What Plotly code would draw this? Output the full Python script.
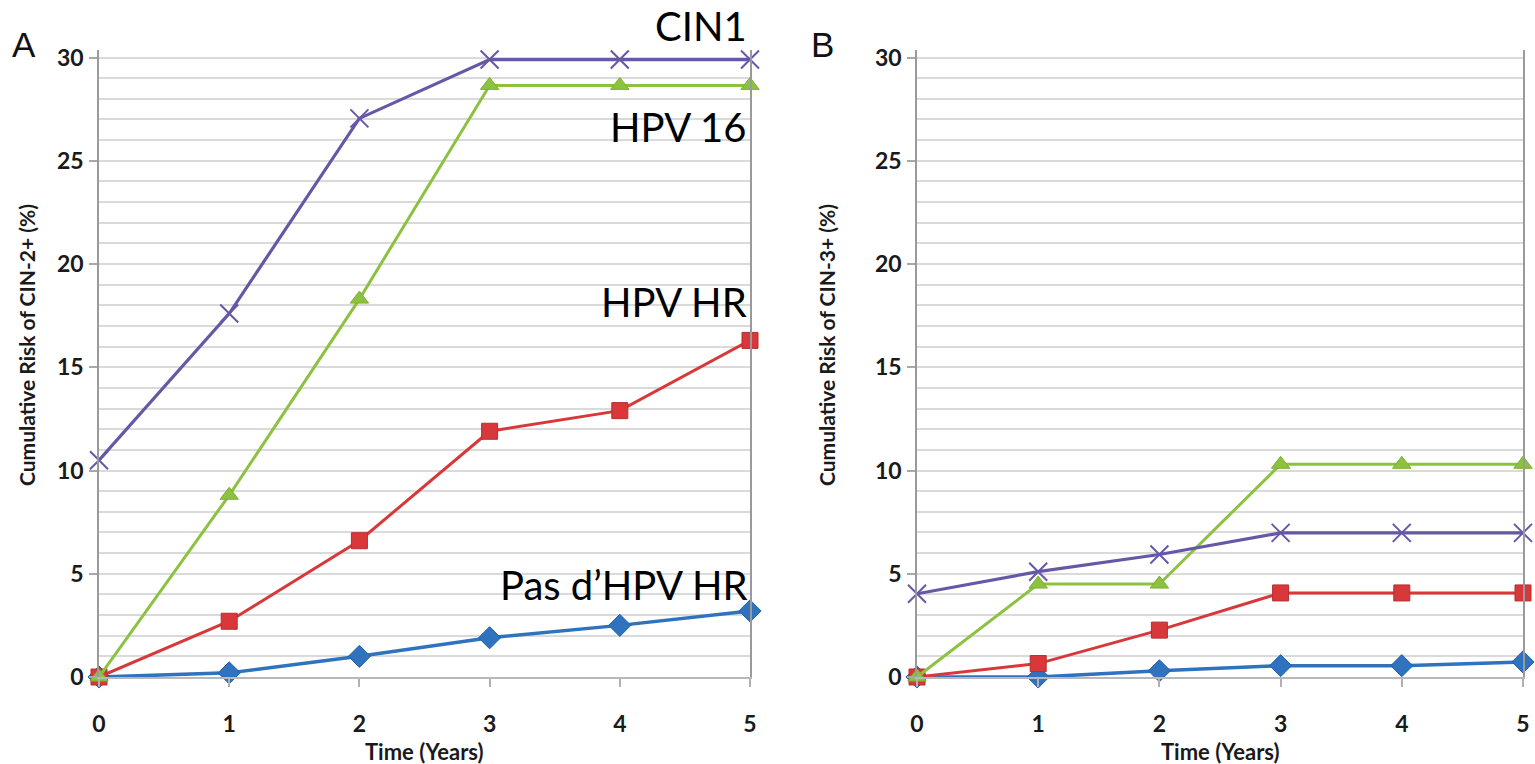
import plotly.graph_objects as go

years = [0, 1, 2, 3, 4, 5]

# Panel A: Cumulative risk of CIN-2+ (%)
a_pas_hpv_hr = [0.0, 0.2, 1.0, 1.9, 2.5, 3.2]
a_hpv_hr = [0.0, 2.7, 6.6, 11.9, 12.9, 16.3]
a_hpv16 = [0.0, 8.8, 18.3, 28.65, 28.65, 28.65]
a_cin1 = [10.5, 17.6, 27.05, 29.9, 29.9, 29.9]

# Panel B: Cumulative risk of CIN-3+ (%)
b_pas_hpv_hr = [0.0, 0.0, 0.3, 0.55, 0.55, 0.73]
b_hpv_hr = [0.0, 0.65, 2.27, 4.07, 4.07, 4.07]
b_hpv16 = [0.0, 4.5, 4.5, 10.3, 10.3, 10.3]
b_cin1 = [4.03, 5.1, 5.93, 6.98, 6.98, 6.98]

series_names = ["Pas d’HPV HR", "HPV HR", "HPV 16", "CIN1"]
panel_letters = ["A", "B"]
y_titles = ["Cumulative Risk of CIN-2+ (%)", "Cumulative Risk of CIN-3+ (%)"]
x_title = "Time (Years)"

W, H = 1535, 764
def fx(px): return px / W
def fy(py): return 1 - py / H

BLUE = "#2F72BD"
RED = "#D9383A"
GREEN = "#8CC240"
PURPLE = "#6658A6"

styles = [
    dict(color=BLUE, symbol="diamond", size=17, lw=3.5, mline=dict(width=1, color="#2460A8")),
    dict(color=RED, symbol="square", size=16, lw=3, mline=dict(width=1, color="#B52E2E")),
    dict(color=GREEN, symbol="triangle-up", size=16, lw=3, mline=dict(width=1, color="#7DB032")),
    dict(color=PURPLE, symbol="x-thin-open", size=18, lw=3.2, mline=dict(width=2, color=PURPLE)),
]

fig = go.Figure()
panels = [
    ("x", "y", [a_pas_hpv_hr, a_hpv_hr, a_hpv16, a_cin1]),
    ("x2", "y2", [b_pas_hpv_hr, b_hpv_hr, b_hpv16, b_cin1]),
]
for xa, ya, data in panels:
    for name, vals, st in zip(series_names, data, styles):
        fig.add_trace(go.Scatter(
            x=years, y=vals, name=name, xaxis=xa, yaxis=ya,
            mode="lines+markers", cliponaxis=False, showlegend=False,
            line=dict(color=st["color"], width=st["lw"]),
            marker=dict(symbol=st["symbol"], size=st["size"], color=st["color"], line=st["mline"]),
        ))

tickfont = dict(family="Lato, Open Sans, sans-serif", size=23, color="#1a1a1a", weight="bold")
GRID = "#dadada"
AXC = "#9a9a9a"

def xaxis(domain, anchor):
    return dict(domain=domain, anchor=anchor, range=[0, 5], tickmode="array", tickvals=years,
                ticks="outside", ticklen=8, tickcolor="#b0b0b0", tickwidth=1.5,
                showline=True, linecolor="#b8b8b8", linewidth=1.5, showgrid=False,
                zeroline=False, tickfont=tickfont, ticklabelstandoff=18, fixedrange=True,
                automargin=False)

def yaxis(anchor):
    return dict(domain=[fy(677), fy(677 - 30.35 * 20.65)], anchor=anchor, range=[0, 30.35],
                tickmode="array", tickvals=[0, 5, 10, 15, 20, 25, 30],
                ticks="outside", ticklen=8, tickcolor="#a8a8a8", tickwidth=1.5,
                showline=True, mirror=True, linecolor=AXC, linewidth=1.5,
                showgrid=True, gridcolor=GRID, gridwidth=1.8,
                minor=dict(tickmode="array", tickvals=list(range(0, 31)), showgrid=True,
                           gridcolor=GRID, gridwidth=1.8, ticks=""),
                zeroline=False, tickfont=tickfont, ticklabelstandoff=1, fixedrange=True,
                automargin=False)

fig.update_layout(
    width=W, height=H, margin=dict(l=0, r=0, t=0, b=0, pad=0, autoexpand=False),
    paper_bgcolor="white", plot_bgcolor="white",
    xaxis=xaxis([fx(99), fx(750)], "y"),
    yaxis=yaxis("x"),
    xaxis2=xaxis([fx(917), fx(1523)], "y2"),
    yaxis2=yaxis("x2"),
)

ann = []
label_font = dict(family="Lato, Open Sans, sans-serif", size=22, color="#1a1a1a", weight="bold")
for cx, ycx, ytitle in [(424, 26, y_titles[0]), (1220, 826, y_titles[1])]:
    ann.append(dict(text=x_title, x=fx(cx), y=fy(751), xref="paper", yref="paper",
                    xanchor="center", yanchor="middle", showarrow=False, font=label_font))
    ann.append(dict(text=ytitle, x=fx(ycx), y=fy(345), xref="paper", yref="paper",
                    xanchor="center", yanchor="middle", showarrow=False, textangle=-90,
                    font=dict(family="Lato, Open Sans, sans-serif", size=21, color="#1a1a1a", weight="bold")))
letter_pos = [(24, 44), (822, 44)]
for (lx, ly), letter in zip(letter_pos, panel_letters):
    ann.append(dict(text=letter, x=fx(lx), y=fy(ly), xref="paper", yref="paper",
                    xanchor="center", yanchor="middle", showarrow=False,
                    font=dict(family="Liberation Sans, Arial, sans-serif", size=35, color="#111111")))

series_labels = [("CIN1", 26), ("HPV 16", 127), ("HPV HR", 302), ("Pas d’HPV HR", 585)]
for txt, py in series_labels:
    ann.append(dict(text=txt, x=fx(749), y=fy(py), xref="paper", yref="paper",
                    xanchor="right", yanchor="middle", showarrow=False,
                    font=dict(family="Lato, Open Sans, sans-serif", size=40, color="#000000")))
fig.update_layout(annotations=ann)

fig.write_html("out.html", config={"displayModeBar": False},
               post_script="document.body.style.margin='0';")
